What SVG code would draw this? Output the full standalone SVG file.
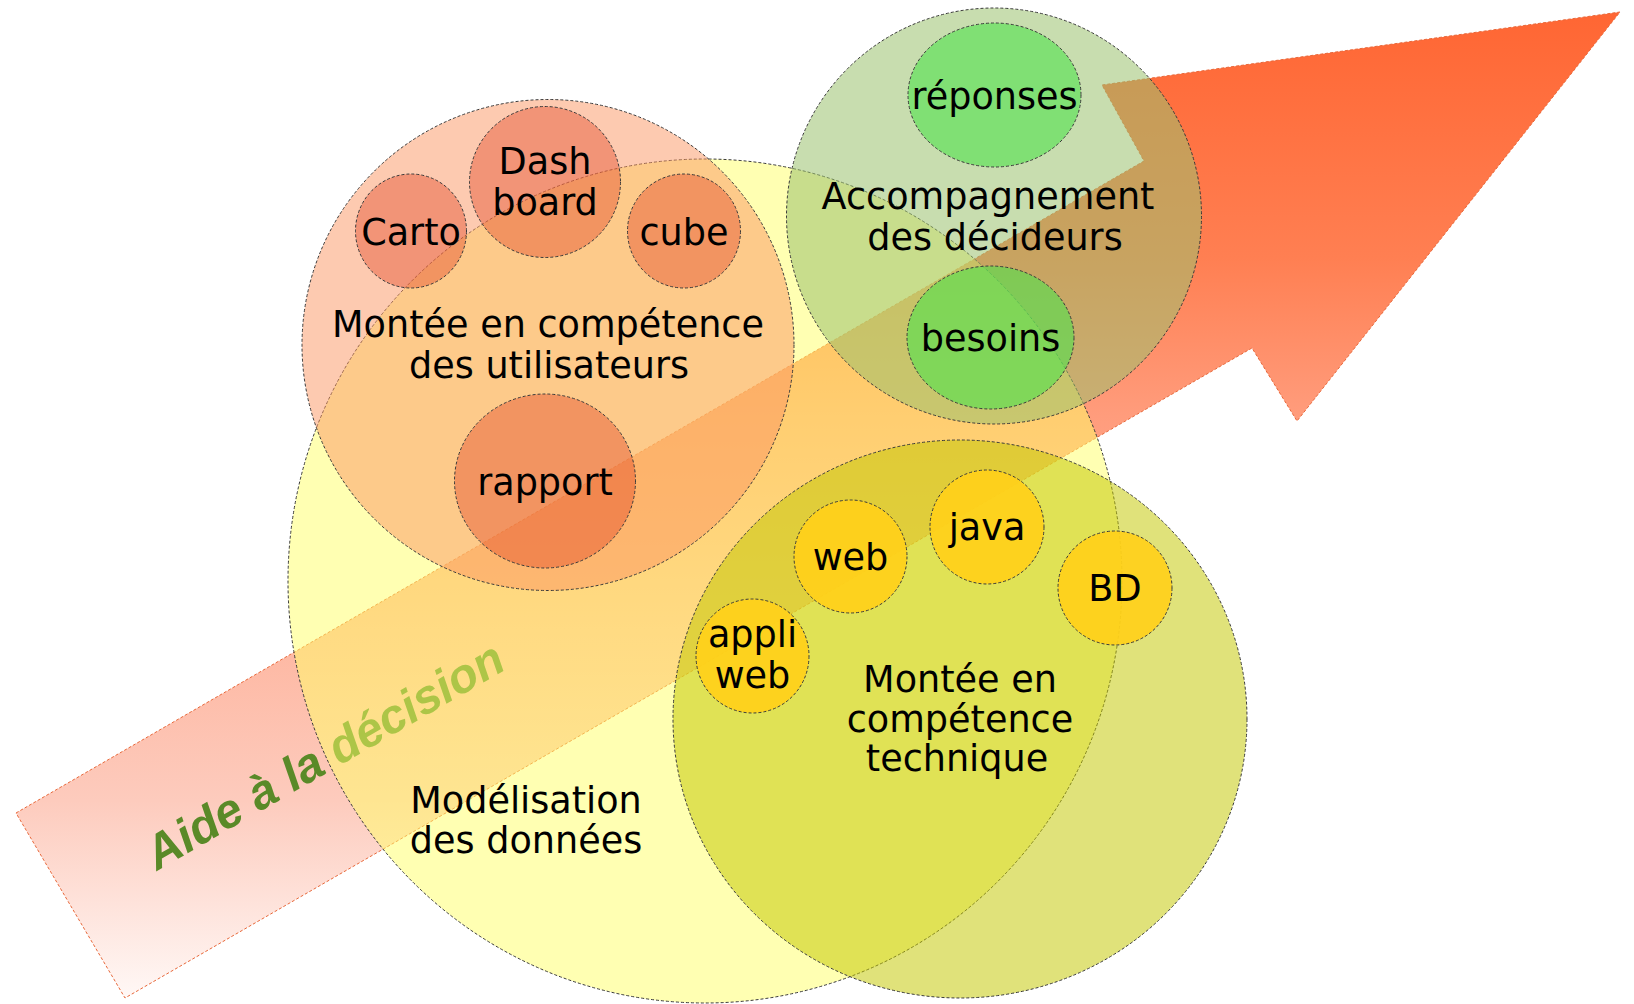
<svg xmlns="http://www.w3.org/2000/svg" width="1634" height="1004" viewBox="0 0 1634 1004">
  <defs>
    <linearGradient id="arrowGrad" gradientUnits="userSpaceOnUse" x1="0" y1="11" x2="0" y2="998">
      <stop offset="0" stop-color="#ff6633"/>
      <stop offset="0.25" stop-color="#ff7f52"/>
      <stop offset="0.41" stop-color="#ff9c7c"/>
      <stop offset="0.8" stop-color="#fdcbbd"/>
      <stop offset="1" stop-color="#fff8f6"/>
    </linearGradient>
    <style>
      .outline { stroke: #3a3a3a; stroke-width: 1; stroke-dasharray: 3 2; }
      .lbl { font-family: "DejaVu Sans", Verdana, sans-serif; font-size: 36.6px; fill: #000; text-anchor: middle; }
      .yellow { fill: #ffff66; fill-opacity: 0.5; }
      .salmon { fill: #fb9561; fill-opacity: 0.5; }
      .salmonSmall { fill: #e24324; fill-opacity: 0.4; }
      .green { fill: #9ac16e; fill-opacity: 0.55; }
      .greenSmall { fill: #50e24c; fill-opacity: 0.6; }
      .tech { fill: #c3c700; fill-opacity: 0.52; }
      .techSmall { fill: #ffd01a; fill-opacity: 0.92; }
    </style>
  </defs>

  <g id="arrow">
    <polygon points="16,813 1144,161 1102,85 1620,12 1297,421 1252,348 125,998" fill="url(#arrowGrad)" stroke="#e8683a" stroke-width="1" stroke-dasharray="3 2"/>
    <text transform="translate(157,871) rotate(-30)" font-family="'Liberation Sans', Arial, sans-serif" font-size="48" font-weight="bold" font-style="italic" fill="#5a8a28">Aide à la décision</text>
  </g>

  <g id="modelisation">
    <ellipse class="yellow outline" cx="705" cy="581" rx="417" ry="422"/>
    <text class="lbl"><tspan x="526" y="813">Modélisation</tspan><tspan x="526" y="853">des données</tspan></text>
  </g>

  <g id="utilisateurs">
    <ellipse class="salmon outline" cx="548" cy="345" rx="246" ry="245.5"/>
    <text class="lbl"><tspan x="548" y="337">Montée en compétence</tspan><tspan x="549" y="378">des utilisateurs</tspan></text>
  </g>
  <g id="dashboard">
    <ellipse class="salmonSmall outline" cx="545" cy="182" rx="75.5" ry="75.5"/>
    <text class="lbl"><tspan x="545" y="174">Dash</tspan><tspan x="545" y="215">board</tspan></text>
  </g>
  <g id="carto">
    <ellipse class="salmonSmall outline" cx="411" cy="231" rx="55.5" ry="57"/>
    <text class="lbl" x="411" y="245">Carto</text>
  </g>
  <g id="cube">
    <ellipse class="salmonSmall outline" cx="684" cy="231" rx="56.5" ry="57"/>
    <text class="lbl" x="684" y="245">cube</text>
  </g>
  <g id="rapport">
    <ellipse class="salmonSmall outline" cx="545" cy="481" rx="90.5" ry="87"/>
    <text class="lbl" x="545" y="495">rapport</text>
  </g>

  <g id="decideurs">
    <ellipse class="green outline" cx="994" cy="216" rx="207.5" ry="208"/>
    <text class="lbl"><tspan x="988" y="209">Accompagnement</tspan><tspan x="995" y="250">des décideurs</tspan></text>
  </g>
  <g id="reponses">
    <ellipse class="greenSmall outline" cx="994.5" cy="95" rx="86.5" ry="72"/>
    <text class="lbl" x="994.5" y="109">réponses</text>
  </g>
  <g id="besoins">
    <ellipse class="greenSmall outline" cx="990.5" cy="337.5" rx="83.5" ry="71.5"/>
    <text class="lbl" x="990.5" y="351">besoins</text>
  </g>

  <g id="technique">
    <ellipse class="tech outline" cx="960" cy="719" rx="287" ry="279"/>
    <text class="lbl"><tspan x="960" y="692">Montée en</tspan><tspan x="960" y="731.5">compétence</tspan><tspan x="957" y="771">technique</tspan></text>
  </g>
  <g id="web">
    <ellipse class="techSmall outline" cx="850.5" cy="556.5" rx="56.5" ry="56.5"/>
    <text class="lbl" x="850.5" y="570">web</text>
  </g>
  <g id="java">
    <ellipse class="techSmall outline" cx="987" cy="527" rx="57" ry="57"/>
    <text class="lbl" x="987" y="540">java</text>
  </g>
  <g id="bd">
    <ellipse class="techSmall outline" cx="1115" cy="588" rx="57" ry="57"/>
    <text class="lbl" x="1115" y="601">BD</text>
  </g>
  <g id="appliweb">
    <ellipse class="techSmall outline" cx="752.5" cy="656" rx="56.5" ry="57"/>
    <text class="lbl"><tspan x="752.5" y="647">appli</tspan><tspan x="752.5" y="688">web</tspan></text>
  </g>
</svg>
